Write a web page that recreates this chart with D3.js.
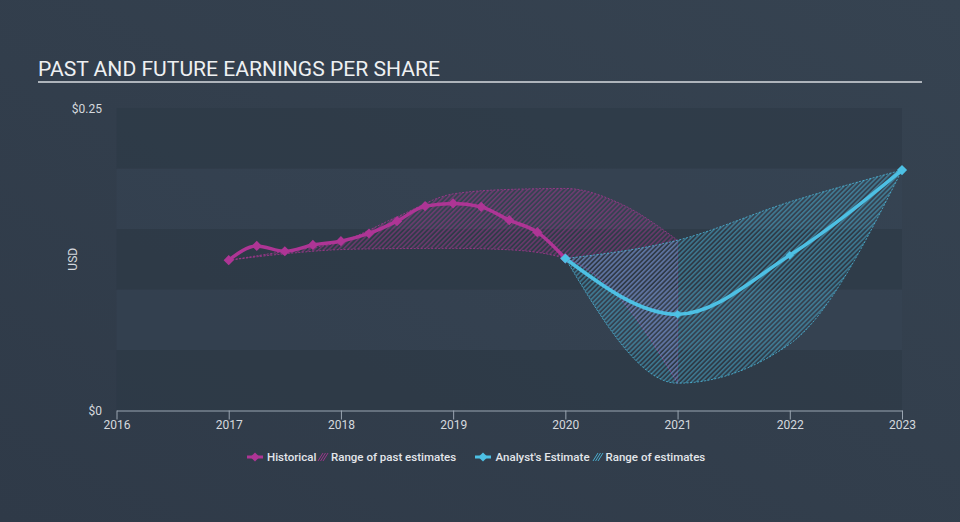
<!DOCTYPE html>
<html>
<head>
<meta charset="utf-8">
<script src="https://cdn.jsdelivr.net/npm/d3@7"></script>
<style>
  html, body { margin: 0; padding: 0; background: #323e4d; }
  svg { display: block; }
  text { font-family: Roboto, "Open Sans", sans-serif; }
</style>
</head>
<body>
<svg id="chart" width="960" height="522"></svg>
<script>
// ---- data ----
const title = "PAST AND FUTURE EARNINGS PER SHARE";
const xTicks = [2016, 2017, 2018, 2019, 2020, 2021, 2022, 2023];
const yTicks = [0, 0.25];
const yTickLabels = ["$0", "$0.25"];
const yBands = [0, 0.05, 0.10, 0.15, 0.20, 0.25];

const histYears = [2017, 2017.25, 2017.5, 2017.75, 2018, 2018.25, 2018.5, 2018.75, 2019, 2019.25, 2019.5, 2019.75, 2020];
const histEPS   = [0.1242, 0.1360, 0.1316, 0.1368, 0.1399, 0.1463, 0.1565, 0.1689, 0.1711, 0.1683, 0.1573, 0.1474, 0.1256];

const pastRangeYears = [2017, 2017.5, 2018, 2018.5, 2019, 2019.5, 2020, 2020.5, 2021];
const pastRangeLow   = [0.1242, 0.1295, 0.1330, 0.1338, 0.1340, 0.1328, 0.1256, 0.0910, 0.0226];
const pastRangeHigh  = [0.1242, 0.1316, 0.1395, 0.1600, 0.1790, 0.1827, 0.1835, 0.1705, 0.1407];

const futYears = [2020, 2021, 2022, 2023];
const futEPS   = [0.1256, 0.0795, 0.1283, 0.1987];
const futLow   = [0.1256, 0.0226, 0.0550, 0.1987];
const futHigh  = [0.1256, 0.1407, 0.1724, 0.1987];

const legendItems = ["Historical", "Range of past estimates", "Analyst's Estimate", "Range of estimates"];

// ---- styles ----
const pink = "#ae3595";
const blue = "#4dc0e4";

const svg = d3.select("#chart");
const W = 960, H = 522;

const defs = svg.append("defs");
const bg = defs.append("linearGradient").attr("id", "bg").attr("x1", "0").attr("y1", "1").attr("x2", "1").attr("y2", "0");
bg.append("stop").attr("offset", "0%").attr("stop-color", "#2f3a48");
bg.append("stop").attr("offset", "100%").attr("stop-color", "#364351");

function hatch(id, color, op) {
  const p = defs.append("pattern").attr("id", id).attr("patternUnits", "userSpaceOnUse")
    .attr("width", 3.4).attr("height", 3.4).attr("patternTransform", "rotate(45)");
  p.append("line").attr("x1", 0.8).attr("y1", 0).attr("x2", 0.8).attr("y2", 3.4)
    .attr("stroke", color).attr("stroke-width", 1.2).attr("stroke-opacity", op);
}
hatch("hatchPink", pink, 0.6);
hatch("hatchBlue", blue, 0.6);

svg.append("rect").attr("width", W).attr("height", H).attr("fill", "url(#bg)");

// scales
const x = d3.scaleLinear().domain([2016, 2023]).range([116.5, 902]);
const y = d3.scaleLinear().domain([0, 0.25]).range([410.5, 108]);

// bands
for (let i = 0; i < yBands.length - 1; i++) {
  svg.append("rect")
    .attr("x", x(2016)).attr("width", x(2023) - x(2016))
    .attr("y", y(yBands[i + 1])).attr("height", y(yBands[i]) - y(yBands[i + 1]))
    .attr("fill", i % 2 === 0 ? "#2c3845" : "#3a4858")
    .attr("opacity", i % 2 === 0 ? 0.55 : 0.35);
}

// title
svg.append("text").attr("x", 38).attr("y", 76).attr("fill", "#eef0f2")
  .attr("font-size", 21.1).text(title);
svg.append("line").attr("x1", 38).attr("x2", 922).attr("y1", 82).attr("y2", 82)
  .attr("stroke", "#aeb4bb").attr("stroke-width", 2);

// y labels
yTicks.forEach((t, i) => {
  svg.append("text").attr("x", 102).attr("y", y(t) + 4.5).attr("text-anchor", "end")
    .attr("fill", "#d5d9de").attr("font-size", 12).text(yTickLabels[i]);
});
svg.append("text").attr("transform", `translate(77,${y(0.125)}) rotate(-90)`)
  .attr("text-anchor", "middle").attr("fill", "#d5d9de").attr("font-size", 12).text("USD");

// x axis
const xAxis = d3.axisBottom(x).tickValues(xTicks).tickFormat(d3.format("d")).tickSize(9).tickSizeOuter(0);
const gx = svg.append("g").attr("transform", `translate(0,${y(0)})`).call(xAxis);
gx.select(".domain").attr("stroke", "#9aa5b1").attr("stroke-width", 1.2);
gx.selectAll(".tick line").attr("stroke", "#9aa5b1");
gx.selectAll(".tick text").attr("fill", "#d5d9de").attr("font-size", 12)
  .attr("font-family", "Roboto, sans-serif").attr("dy", "0.55em");

// areas
const pastData = pastRangeYears.map((yr, i) => ({ x: yr, lo: pastRangeLow[i], hi: pastRangeHigh[i] }));
const futData = futYears.map((yr, i) => ({ x: yr, lo: futLow[i], hi: futHigh[i], v: futEPS[i] }));
const curve = d3.curveMonotoneX;

const area = d3.area().x(d => x(d.x)).y0(d => y(d.lo)).y1(d => y(d.hi)).curve(curve);
const lineLo = d3.line().x(d => x(d.x)).y(d => y(d.lo)).curve(curve);
const lineHi = d3.line().x(d => x(d.x)).y(d => y(d.hi)).curve(curve);

function drawRange(data, color, patt) {
  svg.append("path").datum(data).attr("d", area).attr("fill", `url(#${patt})`);
  [lineLo, lineHi].forEach(l => {
    svg.append("path").datum(data).attr("d", l).attr("fill", "none")
      .attr("stroke", color).attr("stroke-width", 1).attr("stroke-opacity", 0.75)
      .attr("stroke-dasharray", "2,1.5");
  });
  const last = data[data.length - 1];
  svg.append("line").attr("x1", x(last.x)).attr("x2", x(last.x))
    .attr("y1", y(last.lo)).attr("y2", y(last.hi))
    .attr("stroke", color).attr("stroke-width", 0.8).attr("stroke-opacity", 0.35);
}
drawRange(pastData, pink, "hatchPink");
drawRange(futData, blue, "hatchBlue");

// lines
const histData = histYears.map((yr, i) => ({ x: yr, v: histEPS[i] }));
const valLine = d3.line().x(d => x(d.x)).y(d => y(d.v)).curve(curve);

svg.append("path").datum(histData).attr("d", valLine).attr("fill", "none")
  .attr("stroke", pink).attr("stroke-width", 3.5).attr("stroke-linejoin", "round");
svg.append("path").datum(futData).attr("d", valLine).attr("fill", "none")
  .attr("stroke", blue).attr("stroke-width", 3.5).attr("stroke-linejoin", "round");

function markers(data, color, sizeFn) {
  svg.selectAll(null).data(data).enter().append("path")
    .attr("d", (d, i) => d3.symbol().type(d3.symbolSquare).size(sizeFn(i))())
    .attr("transform", d => `translate(${x(d.x)},${y(d.v)}) rotate(45)`)
    .attr("fill", color);
}
markers(histData, pink, () => 52);
markers(futData, blue, i => (i === 0 || i === 3) ? 52 : 36);

// legend
const ly = 457;
const lg = svg.append("g");
function legendMarker(cx, color) {
  lg.append("line").attr("x1", cx - 8).attr("x2", cx + 8).attr("y1", ly).attr("y2", ly)
    .attr("stroke", color).attr("stroke-width", 3);
  lg.append("path").attr("d", d3.symbol().type(d3.symbolSquare).size(42)())
    .attr("transform", `translate(${cx},${ly}) rotate(45)`).attr("fill", color);
}
function legendHatch(cx, color) {
  [-2.5, 0, 2.5].forEach(o => {
    lg.append("line").attr("x1", cx + o - 2.5).attr("y1", ly + 4).attr("x2", cx + o + 2.5).attr("y2", ly - 4)
      .attr("stroke", color).attr("stroke-width", 1).attr("stroke-opacity", 0.85);
  });
}
function legendText(tx, s) {
  lg.append("text").attr("x", tx).attr("y", ly + 4.2).attr("fill", "#e3e6ea")
    .attr("font-size", 11.5).attr("font-weight", 500).text(s);
}
legendMarker(255, pink);
legendText(267, legendItems[0]);
legendHatch(323, pink);
legendText(331, legendItems[1]);
legendMarker(483, blue);
legendText(495.5, legendItems[2]);
legendHatch(598, blue);
legendText(605.5, legendItems[3]);
</script>
</body>
</html>
